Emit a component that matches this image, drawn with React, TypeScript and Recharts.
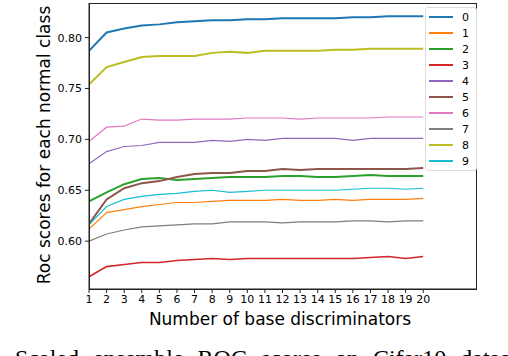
import React from 'react';
import { LineChart, Line, XAxis, YAxis } from 'recharts';

const numDiscriminators = [1, 2, 3, 4, 5, 6, 7, 8, 9, 10, 11, 12, 13, 14, 15, 16, 17, 18, 19, 20];
const xTicks = numDiscriminators;
const yTicks = [0.6, 0.65, 0.7, 0.75, 0.8];

const class0 = [0.787, 0.805, 0.809, 0.812, 0.813, 0.815, 0.816, 0.817, 0.817, 0.818, 0.818, 0.819, 0.819, 0.819, 0.819, 0.820, 0.820, 0.821, 0.821, 0.821];
const class1 = [0.612, 0.628, 0.631, 0.634, 0.636, 0.638, 0.638, 0.639, 0.640, 0.640, 0.640, 0.641, 0.640, 0.640, 0.641, 0.640, 0.641, 0.641, 0.641, 0.642];
const class2 = [0.639, 0.648, 0.656, 0.661, 0.662, 0.660, 0.661, 0.662, 0.663, 0.663, 0.663, 0.664, 0.664, 0.663, 0.663, 0.664, 0.665, 0.664, 0.664, 0.664];
const class3 = [0.565, 0.575, 0.577, 0.579, 0.579, 0.581, 0.582, 0.583, 0.582, 0.583, 0.583, 0.583, 0.583, 0.583, 0.583, 0.583, 0.584, 0.585, 0.583, 0.585];
const class4 = [0.676, 0.688, 0.693, 0.694, 0.697, 0.697, 0.697, 0.699, 0.698, 0.700, 0.699, 0.701, 0.701, 0.701, 0.701, 0.699, 0.701, 0.701, 0.701, 0.701];
const class5 = [0.617, 0.641, 0.652, 0.657, 0.659, 0.663, 0.666, 0.667, 0.667, 0.669, 0.669, 0.671, 0.670, 0.671, 0.671, 0.671, 0.671, 0.671, 0.671, 0.672];
const class6 = [0.698, 0.712, 0.713, 0.720, 0.719, 0.719, 0.720, 0.720, 0.720, 0.721, 0.721, 0.721, 0.720, 0.721, 0.721, 0.721, 0.721, 0.722, 0.722, 0.722];
const class7 = [0.600, 0.607, 0.611, 0.614, 0.615, 0.616, 0.617, 0.617, 0.619, 0.619, 0.619, 0.618, 0.619, 0.619, 0.619, 0.620, 0.620, 0.619, 0.620, 0.620];
const class8 = [0.754, 0.771, 0.776, 0.781, 0.782, 0.782, 0.782, 0.785, 0.786, 0.785, 0.787, 0.787, 0.787, 0.787, 0.788, 0.788, 0.789, 0.789, 0.789, 0.789];
const class9 = [0.616, 0.634, 0.641, 0.644, 0.646, 0.647, 0.649, 0.650, 0.648, 0.649, 0.650, 0.650, 0.650, 0.650, 0.650, 0.651, 0.652, 0.652, 0.651, 0.652];

const seriesNames = ['0', '1', '2', '3', '4', '5', '6', '7', '8', '9'];
const seriesValues = [class0, class1, class2, class3, class4, class5, class6, class7, class8, class9];
const colors = ['#1f77b4', '#ff7f0e', '#2ca02c', '#d62728', '#9467bd', '#8c564b', '#e377c2', '#7f7f7f', '#bcbd22', '#17becf'];
const widths = [2, 1.2, 2, 1.6, 1.2, 2, 1.2, 1.2, 2, 1.2];

const data = numDiscriminators.map((n, i) => {
  const row: Record<string, number> = { n };
  seriesNames.forEach((name, k) => {
    row['c' + name] = seriesValues[k][i];
  });
  return row;
});

const font = 'DejaVu Sans, sans-serif';

export default function App() {
  return (
    <div style={{ position: 'absolute', left: 0, top: 0, width: 508, height: 356, overflow: 'hidden', background: '#fff' }}>
      <LineChart width={508} height={356} data={data} margin={{ top: 3, right: 32, left: 0, bottom: 27 }}>
        <XAxis
          dataKey="n"
          type="number"
          domain={[1, 23]}
          ticks={xTicks}
          interval={0}
          allowDataOverflow
          height={40}
          tickSize={4}
          tickMargin={2}
          stroke="#222"
          tick={{ fill: '#000', fontSize: 11, fontFamily: font }}
        />
        <YAxis
          type="number"
          domain={[0.553, 0.834]}
          ticks={yTicks}
          allowDataOverflow
          width={89}
          tickSize={4}
          tickMargin={3}
          stroke="#222"
          tickFormatter={(v: number) => v.toFixed(2)}
          tick={{ fill: '#000', fontSize: 11, fontFamily: font }}
        />
        {seriesNames.map((name, k) => (
          <Line
            key={name}
            type="linear"
            dataKey={'c' + name}
            name={name}
            stroke={colors[k]}
            strokeWidth={widths[k]}
            dot={false}
            isAnimationActive={false}
          />
        ))}
      </LineChart>
      <div style={{ position: 'absolute', left: 89, top: 3, width: 386, height: 285, border: '1px solid #222', pointerEvents: 'none' }} />
      <div
        style={{
          position: 'absolute',
          left: 425,
          top: 7,
          background: '#fff',
          border: '1px solid #ddd',
          borderRadius: 3,
          padding: '1px 7px 1px 3px',
          fontFamily: font,
          fontSize: 11,
          color: '#000',
        }}
      >
        {seriesNames.map((name, k) => (
          <div key={name} style={{ display: 'flex', alignItems: 'center', height: 16 }}>
            <span style={{ display: 'inline-block', width: 24, height: widths[k], background: colors[k], marginRight: 9 }} />
            <span>{name}</span>
          </div>
        ))}
      </div>
      <div
        style={{
          position: 'absolute',
          left: 44,
          top: 145,
          transform: 'translate(-50%, -50%) rotate(-90deg)',
          whiteSpace: 'nowrap',
          fontFamily: font,
          fontSize: 17,
          color: '#000',
        }}
      >
        Roc scores for each normal class
      </div>
      <div
        style={{
          position: 'absolute',
          left: 280,
          top: 319,
          transform: 'translate(-50%, -50%)',
          whiteSpace: 'nowrap',
          fontFamily: font,
          fontSize: 17,
          color: '#000',
        }}
      >
        Number of base discriminators
      </div>
      <div
        style={{
          position: 'absolute',
          left: 15,
          top: 346,
          whiteSpace: 'nowrap',
          fontFamily: 'Liberation Serif, serif',
          fontSize: 24,
          lineHeight: '24px',
          wordSpacing: 8,
          color: '#000',
        }}
      >
        Scaled ensemble ROC scores on Cifar10 dataset
      </div>
    </div>
  );
}
